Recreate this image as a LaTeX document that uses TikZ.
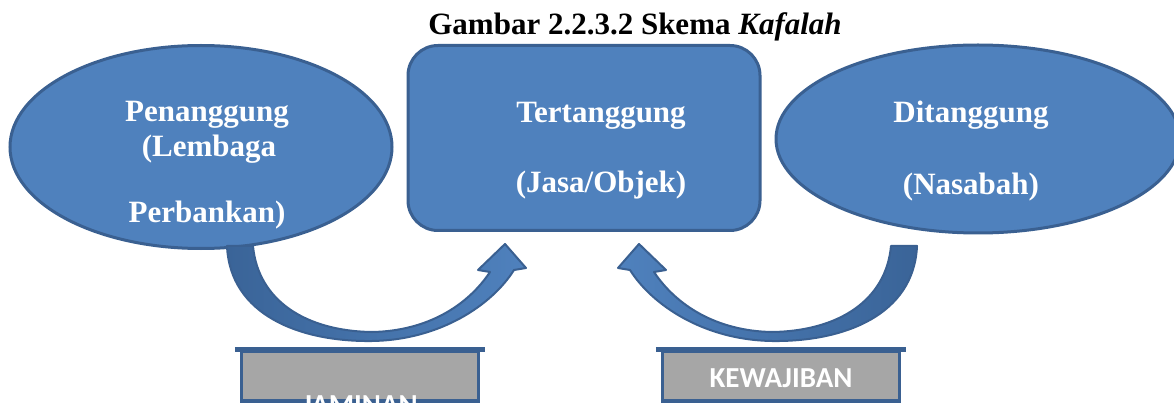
\documentclass[tikz,border=0pt]{standalone}
\usepackage{fontspec}
\setmainfont{Liberation Serif}
\newfontfamily\boxfont{Carlito}
\usetikzlibrary{shapes.geometric}

\definecolor{boxblue}{HTML}{4F81BD}
\definecolor{boxline}{HTML}{3A6091}
\definecolor{arrowdark}{HTML}{3A6498}
\definecolor{boxgray}{HTML}{A6A6A6}

\tikzset{
  party/.style={ellipse, fill=boxblue, draw=boxline, line width=3pt, inner sep=0pt},
  object/.style={rectangle, rounded corners=30pt, fill=boxblue, draw=boxline, line width=3pt, inner sep=0pt},
  tag/.style={rectangle, fill=boxgray, draw=boxline, line width=3.5pt, inner sep=0pt,
    minimum width=237pt, minimum height=50pt},
  lbl/.style={text=white, anchor=base, font=\bfseries\fontsize{31}{36}\selectfont},
  taglbl/.style={text=white, anchor=base, font=\boxfont\bfseries\fontsize{29}{33}\selectfont},
  curvearrow/.style={left color=arrowdark, right color=boxblue, draw=boxline, line width=2pt, line join=round}
}

\newcommand\kafarrow[1]{%
  \filldraw[curvearrow, #1] (227,246) .. controls (230,315) and (300,342) .. (372,341)
    .. controls (440,340) and (492,305) .. (514,270) -- (526,268) -- (505,244)
    -- (478,270) -- (490,272) .. controls (468,305) and (428,331) .. (372,332)
    .. controls (305,331) and (258,300) .. (253,246) -- cycle;}

\begin{document}
\begin{tikzpicture}[x=1pt, y=-1pt]
\useasboundingbox (0,0) rectangle (1174,403);
\clip (0,0) rectangle (1174,403);

\def\xl{201};
\def\xc{584};
\def\xr{978};

\node[anchor=base, font=\bfseries\fontsize{31}{36}\selectfont] (title) at (635,35)
  {Gambar 2.2.3.2 Skema \textit{Kafalah}};

\node[party, minimum width=382pt, minimum height=203pt] (penanggung) at (\xl,147) {};
\node[object, minimum width=352pt, minimum height=185pt] (tertanggung) at (\xc,138) {};
\node[party, minimum width=404pt, minimum height=188pt] (ditanggung) at (\xr,139) {};

\node[lbl] (p1) at (207,122) {Penanggung};
\node[lbl] (p2) at (209,157) {(Lembaga};
\node[lbl] (p3) at (207,223) {Perbankan)};

\node[lbl] (t1) at (601,123) {Tertanggung};
\node[lbl] (t2) at (601,193) {(Jasa/Objek)};

\node[lbl] (d1) at (971,123) {Ditanggung};
\node[lbl] (d2) at (971,195) {(Nasabah)};

% jaminan / kewajiban
\kafarrow{}
\begin{scope}[xshift=1144pt, xscale=-1]
\kafarrow{left color=boxblue, right color=arrowdark}
\end{scope}

\node[tag] (jaminan) at (360,376) {};
\node[tag] (kewajiban) at (781,376) {};
\draw[boxline, line width=4.5pt] ([xshift=-5pt]jaminan.north west) -- ([xshift=5pt]jaminan.north east);
\draw[boxline, line width=4.5pt] ([xshift=-5pt]kewajiban.north west) -- ([xshift=5pt]kewajiban.north east);

\node[taglbl] (j1) at (360,414) {JAMINAN};
\node[taglbl] (k1) at (781,387) {KEWAJIBAN};

\end{tikzpicture}
\end{document}
